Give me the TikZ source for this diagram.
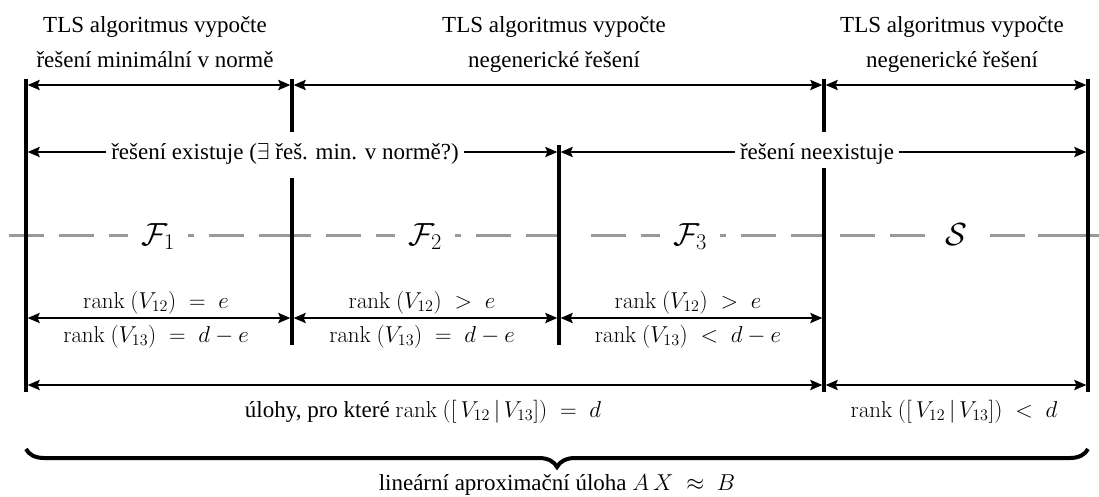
\RequirePackage{fix-cm}
\documentclass[tikz,border=0pt]{standalone}
\usepackage[no-math]{fontspec}
\setmainfont{Liberation Serif}
\usetikzlibrary{arrows.meta,decorations.pathreplacing}
\definecolor{dashgrey}{RGB}{153,153,153}
\tikzset{
  vline/.style={line width=3.2pt},
  arr/.style={line width=2.8pt,
    {Stealth[length=12pt,width=10pt,inset=2pt]}-{Stealth[length=12pt,width=10pt,inset=2pt]}},
  lbl/.style={inner sep=0pt, anchor=base},
  cut/.style={fill=white, inner xsep=5pt, inner ysep=3pt, anchor=base},
  fam/.style={fill=white, inner xsep=13pt, inner ysep=2pt, anchor=base,
    font=\fontsize{32}{36}\selectfont},
  dsh/.style={draw=dashgrey, line width=3pt, dash pattern=on 35pt off 15pt},
  solidgrey/.style={draw=dashgrey, line width=3pt},
  bracestyle/.style={line width=4pt, decorate, decoration={brace, amplitude=18pt}},
}
\begin{document}
\begin{tikzpicture}[x=1pt,y=-1pt,font=\fontsize{23}{28}\selectfont]
\useasboundingbox (0,0) rectangle (1099,496);

% ---- grey dashed axis
\coordinate (d0) at (9,235);
\coordinate (d1) at (294,235);
\coordinate (d2) at (276,235);
\coordinate (d3) at (561,235);
\coordinate (d4) at (591,235);
\coordinate (d5) at (826,235);
\coordinate (d6) at (840,235);
\coordinate (d7) at (1038,235);
\coordinate (d8) at (1099,235);
\draw[dsh] (d0) -- (d1);
\draw[dsh] (d2) -- (d3);
\draw[dsh] (d4) -- (d5);
\draw[dsh] (d6) -- (d7);
\draw[solidgrey] (d7) -- (d8);

% ---- region symbols
\node[fam] (F1) at (158,245) {$\mathcal{F}_1$};
\node[fam] (F2) at (425,245) {$\mathcal{F}_2$};
\node[fam] (F3) at (690,245) {$\mathcal{F}_3$};
\node[fam] (S)  at (956,245) {$\mathcal{S}$};

% ---- vertical lines
\coordinate (v0t) at (26,79);    \coordinate (v0b) at (26,392);
\coordinate (v1t) at (292,79);   \coordinate (v1m) at (292,132);
\coordinate (v1n) at (292,178);  \coordinate (v1b) at (292,345);
\coordinate (v2t) at (559,145);  \coordinate (v2b) at (559,345);
\coordinate (v3t) at (824,79);   \coordinate (v3m) at (824,132);
\coordinate (v3n) at (824,168);  \coordinate (v3b) at (824,392);
\coordinate (v4t) at (1088,79);  \coordinate (v4b) at (1088,392);
\draw[vline] (v0t) -- (v0b);
\draw[vline] (v1t) -- (v1m);
\draw[vline] (v1n) -- (v1b);
\draw[vline] (v2t) -- (v2b);
\draw[vline] (v3t) -- (v3m);
\draw[vline] (v3n) -- (v3b);
\draw[vline] (v4t) -- (v4b);

% ---- row A arrows
\coordinate (a0) at (27.6,85);  \coordinate (a1l) at (290.4,85);
\coordinate (a1r) at (293.6,85); \coordinate (a3l) at (822.4,85);
\coordinate (a3r) at (825.6,85); \coordinate (a4) at (1086.4,85);
\draw[arr] (a0) -- (a1l);
\draw[arr] (a1r) -- (a3l);
\draw[arr] (a3r) -- (a4);

% ---- row B arrows
\coordinate (b0) at (27.6,152);  \coordinate (b2l) at (557.4,152);
\coordinate (b2r) at (560.6,152); \coordinate (b4) at (1086.4,152);
\draw[arr] (b0) -- (b2l);
\draw[arr] (b2r) -- (b4);
\node[cut] (rb1) at (285,159) {řešení existuje ($\exists$ řeš. min. v normě?)};
\node[cut] (rb2) at (817,159) {řešení neexistuje};

% ---- row C arrows
\coordinate (c0) at (27.6,318);   \coordinate (c1l) at (290.4,318);
\coordinate (c1r) at (293.6,318); \coordinate (c2l) at (557.4,318);
\coordinate (c2r) at (560.6,318); \coordinate (c3l) at (822.4,318);
\draw[arr] (c0) -- (c1l);
\draw[arr] (c1r) -- (c2l);
\draw[arr] (c2r) -- (c3l);

\node[lbl] (r1u) at (156,308) {$\mathrm{rank}\ (V_{12})\;=\;e$};
\node[lbl] (r1l) at (156,342) {$\mathrm{rank}\ (V_{13})\;=\;d-e$};
\node[lbl] (r2u) at (422,308) {$\mathrm{rank}\ (V_{12})\;>\;e$};
\node[lbl] (r2l) at (422,342) {$\mathrm{rank}\ (V_{13})\;=\;d-e$};
\node[lbl] (r3u) at (688,308) {$\mathrm{rank}\ (V_{12})\;>\;e$};
\node[lbl] (r3l) at (688,342) {$\mathrm{rank}\ (V_{13})\;<\;d-e$};

% ---- row D arrows
\coordinate (e0) at (27.6,385);   \coordinate (e3l) at (822.4,385);
\coordinate (e3r) at (825.6,385); \coordinate (e4) at (1086.4,385);
\draw[arr] (e0) -- (e3l);
\draw[arr] (e3r) -- (e4);
\node[lbl] (ul1) at (423,417) {úlohy, pro které $\mathrm{rank}\ ([\,V_{12}\,|\,V_{13}])\;=\;d$};
\node[lbl] (ul2) at (954,417) {$\mathrm{rank}\ ([\,V_{12}\,|\,V_{13}])\;<\;d$};

% ---- top headings
\node[lbl] (h1a) at (155,32) {TLS algoritmus vypočte};
\node[lbl] (h1b) at (155,67) {řešení minimální v normě};
\node[lbl] (h2a) at (554,32) {TLS algoritmus vypočte};
\node[lbl] (h2b) at (554,67) {negenerické řešení};
\node[lbl] (h3a) at (952,32) {TLS algoritmus vypočte};
\node[lbl] (h3b) at (952,67) {negenerické řešení};

% ---- brace
\coordinate (brR) at (1088,449);
\coordinate (brL) at (26,449);
\draw[bracestyle] (brR) -- (brL);
\node[lbl] (bt) at (557,490) {lineární aproximační úloha $A\,X\;\approx\;B$};
\end{tikzpicture}
\end{document}
